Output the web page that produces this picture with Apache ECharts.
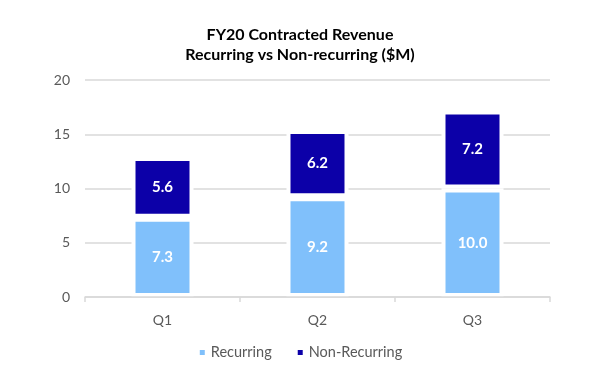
<!DOCTYPE html>
<html>
<head>
<meta charset="utf-8">
<script src="https://cdn.jsdelivr.net/npm/echarts@6/dist/echarts.min.js"></script>
<style>html,body{margin:0;padding:0;background:#fff}#c{width:600px;height:380px}</style>
</head>
<body>
<div id="c"></div>
<script>
const categories = ['Q1', 'Q2', 'Q3'];
const recurring = [7.3, 9.2, 10.0];
const nonRecurring = [5.6, 6.2, 7.2];
const seriesNames = ['Recurring', 'Non-Recurring'];
const titleLines = ['FY20 Contracted Revenue', 'Recurring vs Non-recurring ($M)'];

const FONT = 'Lato, "Open Sans", sans-serif';
const chart = echarts.init(document.getElementById('c'), null, {renderer: 'canvas'});
const labelStyle = {
  show: true, position: 'inside', color: '#ffffff', fontFamily: FONT,
  fontWeight: 'bold', fontSize: 15,
  formatter: p => p.value.toFixed(1)
};
chart.setOption({
  animation: false,
  backgroundColor: '#ffffff',
  title: {
    text: titleLines.join('\n'),
    left: 'center', top: 20,
    textStyle: {fontFamily: FONT, fontWeight: 'bold', fontSize: 16, color: '#000', lineHeight: 20}
  },
  legend: {
    data: seriesNames,
    bottom: 15, left: 'center',
    icon: 'rect', itemWidth: 7, itemHeight: 7, itemGap: 24,
    textStyle: {fontFamily: FONT, fontSize: 14.5, color: '#595959'}
  },
  grid: {left: 85, right: 50, top: 80, bottom: 83},
  xAxis: {
    type: 'category', data: categories, z: 10,
    axisLine: {lineStyle: {color: '#d9d9d9', width: 1.5}},
    axisTick: {show: true, length: 5, lineStyle: {color: '#d9d9d9', width: 1.5}},
    axisLabel: {fontFamily: FONT, fontSize: 14, color: '#595959', margin: 16}
  },
  yAxis: {
    type: 'value', min: 0, max: 20, interval: 5,
    axisLine: {show: false}, axisTick: {show: false},
    axisLabel: {fontFamily: FONT, fontSize: 14, color: '#595959', margin: 15},
    splitLine: {lineStyle: {color: '#d9d9d9', width: 1.5}}
  },
  series: [
    {name: seriesNames[0], type: 'bar', stack: 's', data: recurring, barWidth: 62,
     itemStyle: {color: '#80C0FB', borderColor: '#ffffff', borderWidth: 4}, label: labelStyle},
    {name: seriesNames[1], type: 'bar', stack: 's', data: nonRecurring, barWidth: 62,
     itemStyle: {color: '#0C00A8', borderColor: '#ffffff', borderWidth: 4}, label: labelStyle}
  ]
});
</script>
</body>
</html>
